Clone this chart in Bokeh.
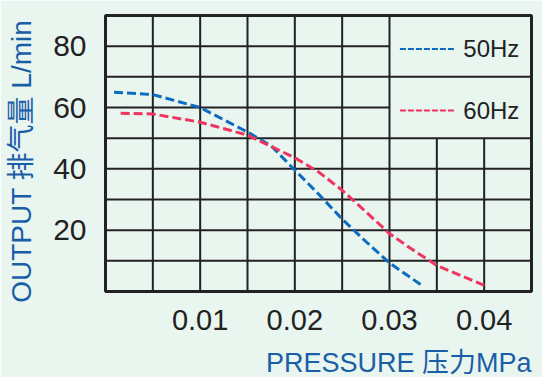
import numpy as np
from bokeh.plotting import figure
from bokeh.models import Range1d, FixedTicker, Title
from bokeh.core.properties import value
from bokeh.embed import file_html
from bokeh.resources import INLINE

# ---- data ----
x_ticks = [0.01, 0.02, 0.03, 0.04]
x_tick_labels = ["0.01", "0.02", "0.03", "0.04"]
y_ticks = [20, 40, 60, 80]

p50_x = [0.0009, 0.005, 0.010, 0.015, 0.0175, 0.020, 0.0225, 0.025, 0.0275, 0.030, 0.0336]
p50_y = [65.0, 64.2, 60.0, 52.0, 47.5, 39.6, 31.8, 23.6, 16.3, 9.3, 1.6]

p60_x = [0.0016, 0.005, 0.010, 0.015, 0.020, 0.0225, 0.025, 0.0275, 0.030, 0.0325, 0.035, 0.040]
p60_y = [58.1, 57.9, 55.2, 51.0, 43.6, 39.0, 33.0, 26.0, 18.9, 13.5, 8.5, 2.0]

series_names = ["50Hz", "60Hz"]
x_title = "PRESSURE 压力MPa"
y_title = "OUTPUT 排气量 L/min"

BG = "#e9f5ef"
BLUE = "#0d6cc0"
RED = "#ee3560"
TITLE_BLUE = "#1a5ea8"
INK = "#222222"
FONT = "Liberation Sans, Noto Sans CJK SC"

X_MAX, Y_MAX = 0.045, 90
X_STEP, Y_STEP = 0.005, 10

p = figure(width=542, height=377, output_backend="svg", toolbar_location=None,
           x_range=Range1d(0, X_MAX), y_range=Range1d(0, Y_MAX),
           min_border_left=105, min_border_right=11, min_border_top=15, min_border_bottom=86)
p.background_fill_color = BG
p.border_fill_color = BG
p.outline_line_color = INK
p.outline_line_width = 3
p.xgrid.visible = False
p.ygrid.visible = False

# ---- grid (legend area in the upper right is kept partly open) ----
LEG_X, LEG_Y = 0.03, 50
gx = np.round(np.arange(1, 9) * X_STEP, 4)
gy = np.arange(1, 9) * Y_STEP
vx0, vy0, vx1, vy1 = [], [], [], []
for x in gx:
    vx0.append(x); vx1.append(x); vy0.append(0)
    vy1.append(LEG_Y if x > LEG_X + 1e-9 else Y_MAX)
for y in gy:
    vy0.append(y); vy1.append(y); vx0.append(0)
    vx1.append(LEG_X if (y > LEG_Y and y != 70) else X_MAX)
p.segment(vx0, vy0, vx1, vy1, line_color=INK, line_width=2)

# ---- curves ----
p.line(p50_x, p50_y, line_color=BLUE, line_width=3, line_dash="9 4")
p.line(p60_x, p60_y, line_color=RED, line_width=3, line_dash="9 4")

# ---- legend (drawn by hand) ----
leg_y = [79.1, 59.0]
p.segment([0.0311, 0.0311], leg_y, [0.0369, 0.0369], leg_y,
          line_color=[BLUE, RED], line_width=2, line_dash="6 2")
p.text([0.0378, 0.0378], leg_y, text=series_names, text_font=value("Liberation Sans"),
       text_font_size="24px", text_color=INK, text_baseline="middle", text_align="left")

# ---- axes ----
for ax in (p.xaxis, p.yaxis):
    ax.axis_line_color = None
    ax.major_tick_line_color = None
    ax.minor_tick_line_color = None
    ax.major_tick_in = 0
    ax.major_tick_out = 0
    ax.major_label_text_font = "Liberation Sans"
    ax.major_label_text_color = INK

p.xaxis.ticker = FixedTicker(ticks=x_ticks)
p.xaxis.major_label_overrides = {t: s for t, s in zip(x_ticks, x_tick_labels)}
p.xaxis.major_label_text_font_size = "29px"
p.xaxis.major_label_standoff = 18
# small blank axis label used only as vertical spacing before the title
p.xaxis.axis_label = "\u00a0"
p.xaxis.axis_label_text_font_size = "9px"
p.xaxis.axis_label_standoff = 0

p.yaxis.ticker = FixedTicker(ticks=y_ticks)
p.yaxis.major_label_text_font_size = "30px"
p.yaxis.major_label_standoff = 19
p.yaxis.axis_label = y_title + "\u00a0\u00a0"
p.yaxis.axis_label_text_font = FONT
p.yaxis.axis_label_text_font_style = "normal"
p.yaxis.axis_label_text_color = TITLE_BLUE
p.yaxis.axis_label_text_font_size = "28px"
p.yaxis.axis_label_standoff = 13

# x-axis title, right-aligned under the plot
p.add_layout(Title(text=x_title, align="right", offset=0, standoff=0,
                   text_font=FONT, text_font_style="normal", text_font_size="27px",
                   text_color=TITLE_BLUE), "below")

open("out.html", "w").write(file_html(p, INLINE))
